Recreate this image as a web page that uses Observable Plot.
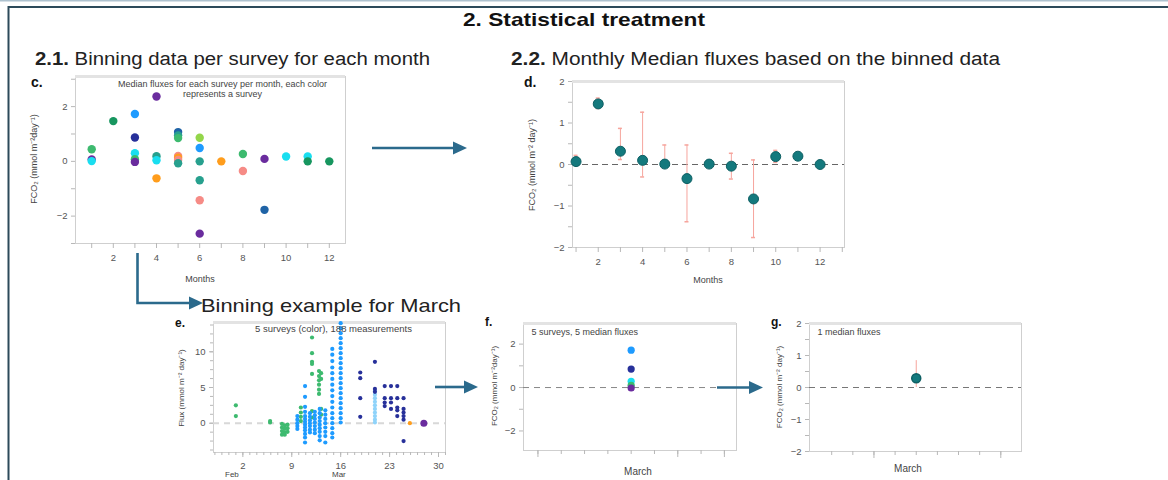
<!DOCTYPE html>
<html><head><meta charset="utf-8">
<script src="https://cdn.jsdelivr.net/npm/d3@7"></script>
<script src="https://cdn.jsdelivr.net/npm/@observablehq/plot@0.6"></script>
<style>
body{margin:0;background:#fff;}
#root{position:relative;width:1168px;height:480px;overflow:hidden;font-family:"Liberation Sans",Arial,sans-serif;}
#overlay{position:absolute;left:0;top:0;pointer-events:none;}
</style></head><body><div id="root"></div>
<script>
// ---------------- data ----------------
// survey identities (each colour represents a survey)
const surveyIds = ["A","B","C","D","E","F","G","H","I","J","K","L"];
const surveyColors = ["#3dba6f","#17965f","#1e9bff","#27309a","#19def0","#6a2c9e","#ff9d1c","#f68b86","#27a08e","#93d64a","#1f63a6","#8fd3fa"];

// panel c: median flux for each survey per month
const cMonths  = [1,1,1, 2, 3,3,3,3,3, 4,4,4,4, 5,5,5,5,5,5,5, 6,6,6,6,6,6, 7, 8,8, 9,9, 10, 11,11, 12];
const cFluxes  = [0.44,0.07,0.01, 1.47, 1.73,0.87,0.30,0.08,-0.02, 2.37,0.19,0.04,-0.62, 1.07,0.95,0.85,0.20,0.13,0.05,-0.07, 0.86,0.49,0.0,-0.69,-1.42,-2.64, 0.0, 0.27,-0.35, 0.09,-1.77, 0.18, 0.18,0.0, 0.0];
const cSurveys = ["A","F","E", "B", "C","D","E","A","F", "F","I","E","G", "K","I","A","H","G","H","I", "J","C","I","I","H","F", "G", "A","H", "F","K", "E", "E","B", "B"];
const cNote = "Median fluxes for each survey per month, each color\nrepresents a survey";

// panel d: monthly median fluxes with spread
const dMonths  = [1,2,3,4,5,6,7,8,9,10,11,12];
const dMedians = [0.07,1.46,0.32,0.10,0.01,-0.34,0.01,-0.04,-0.83,0.19,0.20,0.0];
const dLows    = [0.0,1.35,0.12,-0.30,0.0,-1.38,null,-0.35,-1.76,0.05,null,null];
const dHighs   = [0.22,1.60,0.87,1.26,0.47,0.47,null,0.27,0.11,0.34,null,null];

// panel e: March measurements (day of axis, flux) by survey
const eDaysA = [1.0,1.0, 5.9,5.9, 7.6,7.6,7.6,7.6, 8.0,8.0,8.0,8.0, 8.4,8.4,8.4, 10.3,10.3,10.3,10.3, 11.9,11.9,11.9,11.9,11.9,11.9,11.9, 12.9,12.9,12.9,12.9,12.9,12.9, 13.2,13.2,13.2,13.2];
const eFluxA = [2.5,1.0, 0.3,0.1, -0.1,-0.6,-1.1,-1.6, -0.3,-0.8,-1.3,-1.6, -0.2,-0.7,-1.2, 2.2,1.5,0.9,0.3, 12.0,9.8,8.6,8.3,6.9,1.7,0.8, 7.3,6.6,6.0,5.4,4.7,4.1, 7.0,6.2,2.0,1.2];
const eDaysC = [9.8,9.8,9.8,9.8,9.8,
  10.9,10.9,10.9,10.9,10.9,10.9,10.9,10.9,10.9,10.9,10.9,10.9,10.9,
  11.6,11.6,11.6,11.6,11.6,11.6,11.6,
  12.3,12.3,12.3,12.3,12.3,12.3,12.3,
  13.0,13.0,13.0,13.0,13.0,13.0,13.0,13.0,13.0,
  13.8,13.8,13.8,13.8,13.8,13.8,13.8,13.8,
  14.8,14.8,14.8,14.8,14.8,14.8,14.8,14.8,14.8,14.8,14.8,14.8,14.8,14.8,14.8,14.8,14.8,
  16.0,16.0,16.0,16.0,16.0,16.0,16.0,16.0,16.0,16.0,16.0,16.0,16.0,16.0,16.0,16.0,16.0,16.0,16.0,16.0,16.0];
const eFluxC = [1.0,0.5,0.0,-0.4,-0.8,
  5.2,3.7,2.3,1.6,1.0,0.6,0.2,-0.2,-0.6,-1.0,-1.5,-2.0,-2.7,
  1.4,0.9,0.4,0.0,-0.4,-0.9,-1.3,
  1.6,1.1,0.6,0.1,-0.4,-0.9,-1.4,
  2.0,1.4,0.8,0.3,-0.2,-0.7,-1.2,-1.8,-2.4,
  1.8,1.2,0.6,0.0,-0.6,-1.2,-1.8,-2.7,
  10.4,9.6,8.7,7.8,7.0,6.2,5.4,4.6,3.8,3.0,2.2,1.4,0.7,0.0,-0.7,-1.4,-2.0,
  14.0,13.3,12.6,11.9,11.2,10.5,9.8,9.1,8.4,7.7,7.0,6.3,5.6,4.9,4.2,3.5,2.8,2.1,1.4,0.7,0.1];
const eDaysL = [20.9,20.9,20.9,20.9,20.9,20.9,20.9,20.9,20.9,20.9];
const eFluxL = [4.5,4.0,3.5,3.0,2.5,2.0,1.5,1.0,0.5,0.1];
const eDaysD = [18.8,18.8,18.8,18.8, 20.9,20.9,20.9, 22.3,22.3,22.3,22.3, 23.2,23.2,23.2,23.2, 24.1,24.1,24.1,24.1,24.1, 25.0,25.0,25.0,25.0,25.0,25.0];
const eFluxD = [7.1,6.3,3.5,0.9, 8.6,4.8,4.4, 5.2,3.5,2.9,2.4, 5.2,3.5,2.9,2.0, 5.2,3.5,2.2,1.8,1.0, 3.5,2.0,1.5,1.0,0.5,-2.5];
const eDaysG = [25.9];
const eFluxG = [0.0];
const eDaysF = [27.9];
const eFluxF = [0.0];
const eNote = "5 surveys (color), 188 measurements";
const eTicks = [2,9,16,23,30];

// panel f: March median flux per survey
const fSurveys = ["C","D","E","A","F"];
const fFluxes  = [1.72,0.85,0.29,0.10,-0.02];
const fNote = "5 surveys, 5 median fluxes";

// panel g: March monthly median
const gMedian = [0.29];
const gLow = [0.0];
const gHigh = [0.84];
const gNote = "1 median fluxes";

// ---------------- helpers ----------------
const root = document.getElementById("root");
function place(el, left, top){ el.style.position="absolute"; el.style.left=left+"px"; el.style.top=top+"px"; root.appendChild(el); }
const FONT = '"Liberation Sans", Arial, sans-serif';
const style = {fontFamily: FONT, fontSize: "9.5px", color: "#555", background: "transparent", overflow: "visible"};
const fmt = d => d === 0 ? "0" : (d < 0 ? "\u2212" : "") + Math.abs(d);
const color = {domain: surveyIds, range: surveyColors};
const TICK = "#b8b8b8", FRAME = "#cfcfcf", TOPLINE = "#e3e3e3";

// ---------------- panel c ----------------
const cData = cMonths.map((m,i)=>({month:m, flux:cFluxes[i], survey:cSurveys[i]}));
const cY = [-3, 3.1];
place(Plot.plot({
  style, width: 335, height: 207, marginLeft: 55, marginRight: 10, marginTop: 10, marginBottom: 30,
  x: {domain: [0.25, 12.75]}, y: {domain: cY}, color,
  marks: [
    Plot.frame({stroke: FRAME}),
    Plot.ruleY([cY[1]], {stroke: TOPLINE, strokeWidth: 3}),
    Plot.axisX({ticks: d3.range(1,13), tickSize: 5, tickPadding: 6, stroke: TICK, fill: "#555", label: null, tickFormat: d => d % 2 === 0 ? String(d) : ""}),
    Plot.axisY({ticks: d3.range(-3,4), tickSize: 4, tickPadding: 4, stroke: TICK, fill: "#555", label: null, tickFormat: d => d % 2 === 0 ? fmt(d) : ""}),
    Plot.dot(cData, {x: "month", y: "flux", fill: "survey", r: 4.2}),
    Plot.text([cNote], {frameAnchor: "top", lineAnchor: "top", dx: 12, dy: 3, fontSize: 9, fill: "#444", lineHeight: 1.15})
  ]
}), 20, 66);

// ---------------- panel d ----------------
const dData = dMonths.map((m,i)=>({month:m, median:dMedians[i], low:dLows[i], high:dHighs[i]}));
const dErr = dData.filter(d => d.low != null);
place(Plot.plot({
  style, width: 334, height: 206, marginLeft: 52, marginRight: 10, marginTop: 10, marginBottom: 30,
  x: {domain: [0.84, 13.1]}, y: {domain: [-2, 2]},
  marks: [
    Plot.frame({stroke: FRAME}),
    Plot.ruleY([2], {stroke: TOPLINE, strokeWidth: 3}),
    Plot.axisX({ticks: d3.range(1,14), tickSize: 5, tickPadding: 6, stroke: TICK, fill: "#555", label: null, tickFormat: d => d % 2 === 0 && d <= 12 ? String(d) : ""}),
    Plot.axisY({ticks: d3.range(-2, 2.01, 0.5), tickSize: 4, tickPadding: 4, stroke: TICK, fill: "#555", label: null, tickFormat: d => Number.isInteger(d) ? fmt(d) : ""}),
    Plot.ruleY([0], {stroke: "#666", strokeDasharray: "6,4"}),
    Plot.ruleX(dErr, {x: "month", y1: "low", y2: "high", stroke: "#f6a59d"}),
    Plot.ruleY(dErr, {y: "low", x1: d => d.month - 0.09, x2: d => d.month + 0.09, stroke: "#f6a59d", strokeWidth: 1.5}),
    Plot.ruleY(dErr, {y: "high", x1: d => d.month - 0.09, x2: d => d.month + 0.09, stroke: "#f6a59d", strokeWidth: 1.5}),
    Plot.dot(dData, {x: "month", y: "median", fill: "#14797d", stroke: "#0e5f63", strokeWidth: 1, r: 5})
  ]
}), 520, 71);

// ---------------- panel e ----------------
const eData = [
  ...eDaysA.map((d,i)=>({day:d, flux:eFluxA[i], survey:"A"})),
  ...eDaysC.map((d,i)=>({day:d, flux:eFluxC[i], survey:"C"})),
  ...eDaysL.map((d,i)=>({day:d, flux:eFluxL[i], survey:"L"})),
  ...eDaysD.map((d,i)=>({day:d, flux:eFluxD[i], survey:"D"})),
  ...eDaysG.map((d,i)=>({day:d, flux:eFluxG[i], survey:"G"})),
  ...eDaysF.map((d,i)=>({day:d, flux:eFluxF[i], survey:"F"}))
];
const eY = [-4.1, 14.1];
place(Plot.plot({
  style, width: 288, height: 170, marginLeft: 48, marginRight: 8, marginTop: 10, marginBottom: 30,
  x: {domain: [-2.2, 31]}, y: {domain: eY}, color,
  marks: [
    Plot.frame({stroke: FRAME}),
    Plot.ruleY([eY[1]], {stroke: TOPLINE, strokeWidth: 3}),
    Plot.axisX({ticks: d3.range(-2, 32), tickSize: 3, stroke: TICK, label: null, tickFormat: () => ""}),
    Plot.axisX({ticks: eTicks, tickSize: 5, tickPadding: 5, stroke: TICK, fill: "#555", label: null, tickFormat: d => String(d)}),
    Plot.axisY({ticks: d3.range(-3.75, 14, 1.25), tickSize: 3, stroke: TICK, label: null, tickFormat: () => ""}),
    Plot.axisY({ticks: [0,5,10], tickSize: 4, tickPadding: 4, stroke: TICK, fill: "#555", label: null, tickFormat: fmt}),
    Plot.ruleY([0], {stroke: "#d8d8d8", strokeWidth: 2, strokeDasharray: "6,5"}),
    Plot.dot(eData.filter(d => d.survey !== "F"), {x: "day", y: "flux", fill: "survey", r: 2.1}),
    Plot.dot(eData.filter(d => d.survey === "F"), {x: "day", y: "flux", fill: "survey", r: 3.5}),
    Plot.text([eNote], {frameAnchor: "top", lineAnchor: "top", dx: 4, dy: 3, fontSize: 9.5, fill: "#444"})
  ]
}), 165, 312);

// ---------------- panel f ----------------
const fData = fSurveys.map((s,i)=>({month:"March", pos:0, flux:fFluxes[i], survey:s}));
const fY = [-2.9, 2.95];
place(Plot.plot({
  style, width: 266, height: 167, marginLeft: 43, marginRight: 10, marginTop: 10, marginBottom: 30,
  x: {domain: [-2.31, 2.26]}, y: {domain: fY}, color,
  marks: [
    Plot.frame({stroke: FRAME}),
    Plot.ruleY([fY[1]], {stroke: TOPLINE, strokeWidth: 3}),
    Plot.axisX({ticks: d3.range(-2, 2.01, 0.5), tickSize: 4, stroke: TICK, label: null, tickFormat: () => ""}),
    Plot.axisX({ticks: [-2, 1, 2], tickSize: 7, stroke: TICK, label: null, tickFormat: () => ""}),
    Plot.axisY({ticks: d3.range(-2, 3), tickSize: 4, tickPadding: 4, stroke: TICK, fill: "#555", label: null, tickFormat: d => d % 2 === 0 ? fmt(d) : ""}),
    Plot.ruleY([0], {stroke: "#888", strokeDasharray: "6,5"}),
    Plot.dot(fData, {x: "pos", y: "flux", fill: "survey", r: 3.6}),
    Plot.text([fNote], {frameAnchor: "top-left", lineAnchor: "top", dx: 8, dy: 5, fontSize: 9, fill: "#444"})
  ]
}), 480, 313);

// ---------------- panel g ----------------
const gData = gMedian.map((m,i)=>({month:"March", pos:0, median:m, low:gLow[i], high:gHigh[i]}));
place(Plot.plot({
  style, width: 266, height: 168, marginLeft: 44, marginRight: 10, marginTop: 10, marginBottom: 30,
  x: {domain: [-5.05, 4.98]}, y: {domain: [-2, 2]},
  marks: [
    Plot.frame({stroke: FRAME}),
    Plot.ruleY([2], {stroke: TOPLINE, strokeWidth: 3}),
    Plot.axisX({ticks: d3.range(-4, 5), tickSize: 4, stroke: TICK, label: null, tickFormat: () => ""}),
    Plot.axisX({ticks: [-2, 4], tickSize: 7, stroke: TICK, label: null, tickFormat: () => ""}),
    Plot.axisY({ticks: d3.range(-2, 2.01, 0.5), tickSize: 4, tickPadding: 4, stroke: TICK, fill: "#555", label: null, tickFormat: d => Number.isInteger(d) ? fmt(d) : ""}),
    Plot.ruleY([0], {stroke: "#777", strokeDasharray: "6,5"}),
    Plot.ruleX(gData, {x: "pos", y1: "low", y2: "high", stroke: "#f6a59d"}),
    Plot.dot(gData, {x: "pos", y: "median", fill: "#14797d", stroke: "#0e5f63", r: 4.5}),
    Plot.text([gNote], {frameAnchor: "top-left", lineAnchor: "top", dx: 8, dy: 5, fontSize: 9, fill: "#444"})
  ]
}), 765, 313);

// ---------------- overlay: frame, headings, labels, arrows ----------------
const A = "#2b6a8c";
const ov = document.createElementNS("http://www.w3.org/2000/svg","svg");
ov.setAttribute("id","overlay"); ov.setAttribute("width","1168"); ov.setAttribute("height","480");
ov.setAttribute("font-family", FONT);
ov.innerHTML = `
<line x1="0" y1="0.5" x2="1168" y2="0.5" stroke="#aec2cf" stroke-width="2"/>
<path d="M8.5,480 V7 H1168" fill="none" stroke="#2c4a5a" stroke-width="2"/>
<text x="584" y="26" text-anchor="middle" font-weight="bold" font-size="19" fill="#111" textLength="242" lengthAdjust="spacingAndGlyphs">2. Statistical treatment</text>
<text x="35" y="65" font-size="18" fill="#222" textLength="395" lengthAdjust="spacingAndGlyphs"><tspan font-weight="bold">2.1.</tspan> Binning data per survey for each month</text>
<text x="511" y="65" font-size="18" fill="#222" textLength="489" lengthAdjust="spacingAndGlyphs"><tspan font-weight="bold">2.2.</tspan> Monthly Median fluxes based on the binned data</text>
<text x="201" y="312" font-size="19" fill="#222" textLength="260" lengthAdjust="spacingAndGlyphs">Binning example for March</text>
<g font-weight="bold" fill="#111">
<text x="31" y="87" font-size="14">c.</text>
<text x="524" y="87" font-size="14">d.</text>
<text x="175" y="327" font-size="12">e.</text>
<text x="485" y="326" font-size="12">f.</text>
<text x="771" y="326" font-size="12">g.</text>
</g>
<g fill="#444" font-size="9">
<text transform="translate(37,159) rotate(-90)" text-anchor="middle">FCO₂ (mmol m⁻²day⁻¹)</text>
<text x="200" y="282" text-anchor="middle">Months</text>
<text transform="translate(535,165) rotate(-90)" text-anchor="middle">FCO₂ (mmol m⁻² day⁻¹)</text>
<text x="708" y="283" text-anchor="middle">Months</text>
<text transform="translate(184,388) rotate(-90)" text-anchor="middle" font-size="8">Flux (mmol m⁻² day⁻¹)</text>
<text x="225" y="477" font-size="8">Feb</text>
<text x="332" y="477" font-size="8">Mar</text>
<text transform="translate(497,386) rotate(-90)" text-anchor="middle" font-size="8">FCO₂ (mmol m⁻²day⁻¹)</text>
<text x="638" y="475" text-anchor="middle" font-size="10">March</text>
<text transform="translate(782,387) rotate(-90)" text-anchor="middle" font-size="8">FCO₂ (mmol m⁻² day⁻¹)</text>
<text x="908" y="472" text-anchor="middle" font-size="10">March</text>
</g>
<g stroke="${A}" stroke-width="2.6" fill="none">
<line x1="372" y1="148" x2="455" y2="148"/>
<polyline points="137.5,253 137.5,303 191,303"/>
<line x1="435" y1="387" x2="466" y2="387"/>
<line x1="717" y1="387.5" x2="751" y2="387.5"/>
</g>
<g fill="${A}">
<polygon points="453,141.5 467,148 453,154.5"/>
<polygon points="189,296.5 203,303 189,309.5"/>
<polygon points="464,380.5 478,387 464,393.5"/>
<polygon points="749,381 763,387.5 749,394"/>
</g>`;
root.appendChild(ov);
</script></body></html>
